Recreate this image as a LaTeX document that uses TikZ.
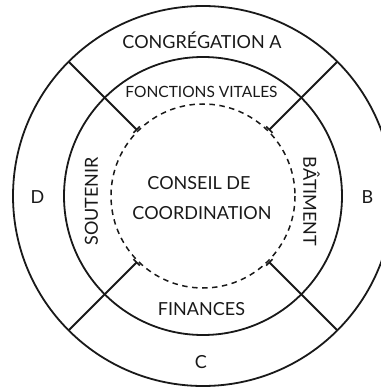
\documentclass[tikz,border=0pt]{standalone}
\usepackage{fontspec}
\setmainfont{Lato}
\usetikzlibrary{arrows.meta,calc}
\begin{document}
\begin{tikzpicture}[x=1pt,y=-1pt,
  ring/.style={line width=1.8pt, black!90},
  dashring/.style={line width=1.5pt, black!90, dash pattern=on 5.5pt off 4.5pt},
  divider/.style={line width=1.8pt, black!90, -{Bar[width=9pt,line width=1.6pt]}},
  lbl/.style={font=\fontsize{18}{20}\selectfont, inner sep=0pt, text=black!90},
  smalllbl/.style={font=\fontsize{15.5}{18}\selectfont, inner sep=0pt, text=black!90}]
\useasboundingbox (0,0) rectangle (380,387);
\coordinate (O) at (203,196);
\draw[ring] (O) circle[radius=190];
\draw[ring] (O) circle[radius=139];
\draw[dashring] (O) circle[radius=92];
\foreach \a/\n in {45/ne,135/nw,225/sw,315/se}{
  \coordinate (out-\n) at ($(O)+(\a:190)$);
  \coordinate (in-\n) at ($(O)+(\a:93)$);
  \draw[divider] (out-\n) -- (in-\n);
}
\node[lbl] (cong) at (202,40.5) {CONGRÉGATION A};
\node[smalllbl] (fonc) at (201.5,91.5) {FONCTIONS VITALES};
\node[lbl] (cons) at (199,183.5) {CONSEIL DE};
\node[lbl] (coor) at (202,213.5) {COORDINATION};
\node[lbl] (fin) at (201.5,309.5) {FINANCES};
\node[lbl] (c) at (201,362.5) {C};
\node[lbl] (d) at (37.5,197.5) {D};
\node[lbl] (b) at (367.5,197.5) {B};
\node[lbl, rotate=90] (sout) at (91.5,201.5) {SOUTENIR};
\node[lbl, rotate=-90] (bat) at (311.5,201.5) {BÂTIMENT};
\end{tikzpicture}
\end{document}
